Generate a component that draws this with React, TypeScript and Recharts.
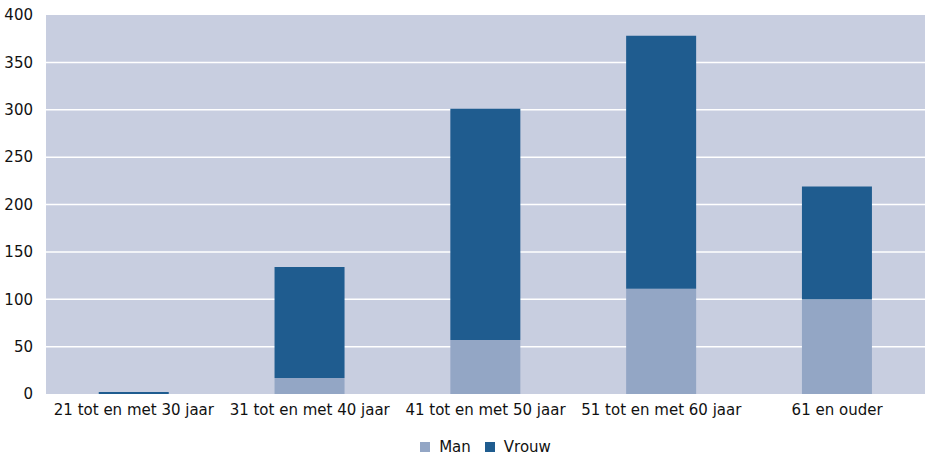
import React from "react";
import { BarChart, Bar, XAxis, YAxis, CartesianGrid, Legend } from "recharts";

const categories = [
  "21 tot en met 30 jaar",
  "31 tot en met 40 jaar",
  "41 tot en met 50 jaar",
  "51 tot en met 60 jaar",
  "61 en ouder",
];
const manValues = [0, 17, 57, 111, 100];
const vrouwValues = [2, 117, 244, 267, 119];
const yTicks = [0, 50, 100, 150, 200, 250, 300, 350, 400];
const gridValues = [50, 100, 150, 200, 250, 300, 350];
const seriesNames = ["Man", "Vrouw"];
const seriesColors = ["#93A6C5", "#1F5C8F"];

const data = categories.map((c, i) => ({ name: c, Man: manValues[i], Vrouw: vrouwValues[i] }));

const FONT = "'DejaVu Sans', Verdana, sans-serif";

const LegendContent = () => (
  <div
    style={{
      display: "flex",
      justifyContent: "center",
      alignItems: "center",
      fontFamily: FONT,
      fontSize: 15,
      color: "#111",
      lineHeight: "18px",
    }}
  >
    {seriesNames.map((n, i) => (
      <div key={n} style={{ display: "flex", alignItems: "center", marginRight: i === 0 ? 14 : 0 }}>
        <span style={{ display: "inline-block", width: 10, height: 10, background: seriesColors[i], marginRight: 9 }} />
        <span>{n}</span>
      </div>
    ))}
  </div>
);

export default function App() {
  return (
    <div style={{ position: "absolute", left: 0, top: 0, width: 925, height: 456, background: "#fff" }}>
      <BarChart
        width={925}
        height={456}
        data={data}
        margin={{ top: 15, right: 0, left: 0, bottom: 0 }}
        barCategoryGap="30%"
      >
        <CartesianGrid
          vertical={false}
          horizontalValues={gridValues}
          stroke="#ffffff"
          strokeWidth={1.5}
          fill="#C8CEE0"
          fillOpacity={1}
        />
        <XAxis
          dataKey="name"
          tickLine={false}
          axisLine={false}
          tickSize={0}
          tickMargin={10}
          height={40}
          interval={0}
          tick={{ fill: "#111", fontSize: 15, fontFamily: FONT }}
        />
        <YAxis
          domain={[0, 400]}
          ticks={yTicks}
          tickLine={false}
          axisLine={false}
          tickSize={0}
          tickMargin={13}
          width={46}
          interval={0}
          tick={{ fill: "#111", fontSize: 15, fontFamily: FONT }}
        />
        <Legend
          verticalAlign="bottom"
          height={22}
          content={LegendContent}
          wrapperStyle={{ left: 46, width: 879, top: 438 }}
        />
        <Bar dataKey="Man" stackId="a" fill={seriesColors[0]} isAnimationActive={false} />
        <Bar dataKey="Vrouw" stackId="a" fill={seriesColors[1]} isAnimationActive={false} />
      </BarChart>
    </div>
  );
}
